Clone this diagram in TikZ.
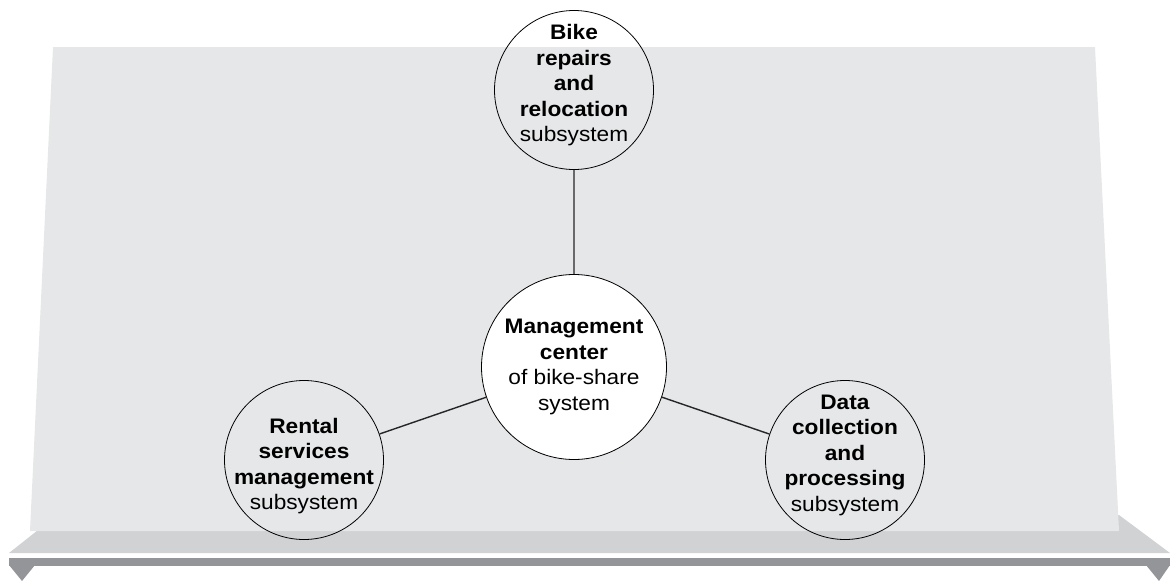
\documentclass[tikz,border=0pt]{standalone}
\usepackage{fontspec}
\setmainfont[FakeStretch=1.08]{Liberation Sans}
\usetikzlibrary{positioning}
\definecolor{panelgray}{HTML}{E6E7E8}
\definecolor{shelfgray}{HTML}{D1D2D4}
\definecolor{edgegray}{HTML}{939598}

\begin{document}
\begin{tikzpicture}[x=1pt,y=-1pt,node distance=10mm]
	\tikzstyle{sub}=[draw, circle, line width=0.8pt, minimum size=159pt, inner sep=-30pt, align=center, font=\fontsize{21}{25.5}\selectfont]
	\tikzstyle{hub}=[sub, fill=white, minimum size=185pt]
	\tikzstyle{link}=[line width=1.4pt, black!85]
	\useasboundingbox (0,0) rectangle (1170,581);
	% Shelf and Board
	\fill[edgegray] (9,558) -- (1170,558) -- (1170,566) -- (9,566) -- cycle;
	\fill[edgegray] (9,565) -- (35,565) -- (22,581) -- cycle;
	\fill[edgegray] (1146,565) -- (1170,565) -- (1159,581) -- cycle;
	\fill[shelfgray] (9,553) -- (1170,553) -- (1119,515) -- (57,515) -- cycle;
	\fill[panelgray] (53,47) -- (1095,47) -- (1119,531) -- (30,531) -- cycle;
	% Circles (struts only nudge the text up or down)
	\node[hub] (mc) at (574,367) {\textbf{Management}\\\textbf{center}\\of bike-share\\system};
	\node[sub] (repair)	[on grid, above = 277pt of mc]	{\textbf{Bike}\\\textbf{repairs}\\\textbf{and}\\\textbf{relocation}\\subsystem\rule[-14pt]{0pt}{1pt}};
	\node[sub] (rental)	[on grid, below left = 93pt and 270pt of mc]	{\rule{0pt}{27pt}\textbf{Rental}\\\textbf{services}\\\textbf{management}\\subsystem};
	\node[sub] (data)	[on grid, below right = 93pt and 271pt of mc]	{\textbf{Data}\\\textbf{collection}\\\textbf{and}\\\textbf{processing}\\subsystem\rule[-14pt]{0pt}{1pt}};
	% Links
	\draw [link] (repair) -- (mc) (rental) -- (mc) (mc) -- (data);
\end{tikzpicture}
\end{document}
